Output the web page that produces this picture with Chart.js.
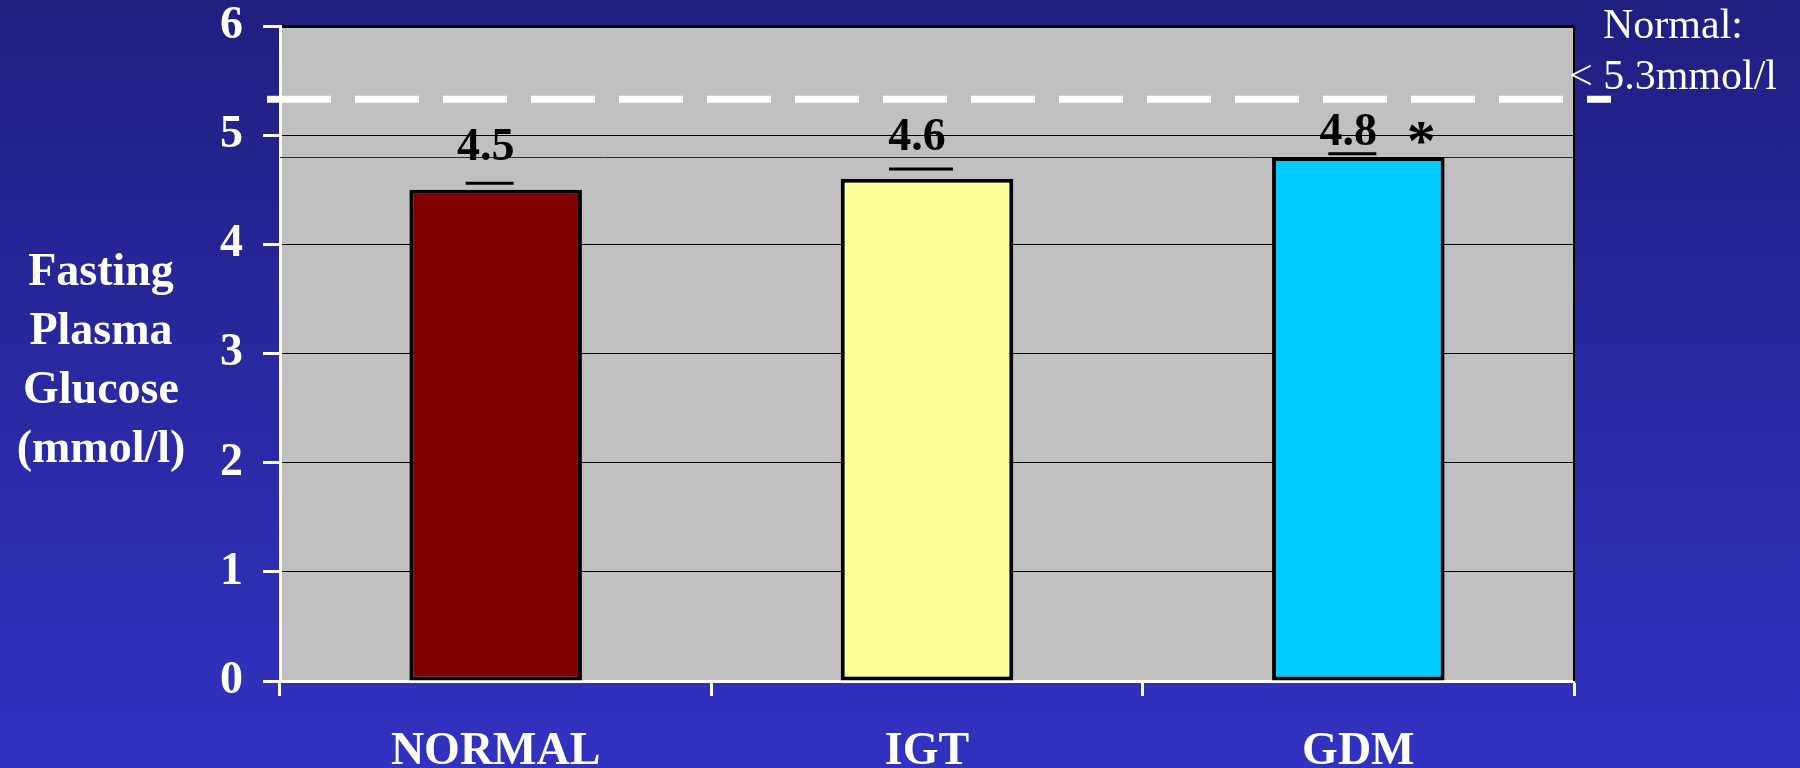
<!DOCTYPE html>
<html>
<head>
<meta charset="utf-8">
<script src="https://cdn.jsdelivr.net/npm/chart.js@4/dist/chart.umd.min.js"></script>
<style>
	html, body { margin: 0; padding: 0; }
	body {
		width: 1800px;
		height: 768px;
		overflow: hidden;
		background: linear-gradient(to bottom, #1f1f80 0%, #3232c2 100%);
	}
	canvas { display: block; }
</style>
</head>
<body>
<canvas id="glucose-chart" width="1800" height="768"></canvas>
<script>
// values
const categories = ["NORMAL", "IGT", "GDM"];
const glucoseMeans = [4.5, 4.6, 4.8];
const errorTops = [4.56, 4.69, 4.83];
const meanLabels = ["4.5", "4.6", "4.8"];
const significant = [false, false, true];
const yTickValues = [0, 1, 2, 3, 4, 5, 6];
const normalLimit = 5.33;
const referenceLine = 4.8;
const titleLines = ["Fasting", "Plasma", "Glucose", "(mmol/l)"];
const noteLines = ["Normal:", "< 5.3mmol/l"];

// styling
const barColors = ["#800000", "#ffff99", "#00ccff"];
const labelGap = [23, 19, 9];
const capWidths = [48, 64, 48];
const SERIF = '"Liberation Serif", "Times New Roman", serif';

const slideDecor = {
	id: "slideDecor",
	beforeDraw(chart) {
		const { ctx, chartArea: a } = chart;
		ctx.save();
		ctx.fillStyle = "#c0c0c0";
		ctx.fillRect(a.left, a.top, a.right - a.left, a.bottom - a.top);
		ctx.restore();
	},
	beforeDatasetsDraw(chart) {
		const { ctx, chartArea: a, scales } = chart;
		const y = Math.round(scales.y.getPixelForValue(referenceLine)) + 0.5;
		ctx.save();
		ctx.strokeStyle = "#20208a";
		ctx.lineWidth = 1;
		ctx.beginPath();
		ctx.moveTo(a.left, y);
		ctx.lineTo(a.right, y);
		ctx.stroke();

		ctx.strokeStyle = "#000";
		ctx.lineWidth = 2;
		ctx.beginPath();
		ctx.moveTo(a.right, a.top);
		ctx.lineTo(a.right, a.bottom);
		ctx.stroke();
		ctx.restore();
	},
	afterDraw(chart) {
		const { ctx, chartArea: a, scales } = chart;
		const meta = chart.getDatasetMeta(0);
		ctx.save();

		// dashed "normal" limit
		const yLim = scales.y.getPixelForValue(normalLimit);
		ctx.strokeStyle = "#fff";
		ctx.lineWidth = 7;
		ctx.setLineDash([64, 24]);
		ctx.beginPath();
		ctx.moveTo(a.left - 13, yLim);
		ctx.lineTo(a.right + 37, yLim);
		ctx.stroke();
		ctx.setLineDash([]);

		// error caps + value labels
		ctx.fillStyle = "#000";
		ctx.strokeStyle = "#000";
		ctx.lineWidth = 3;
		ctx.textAlign = "center";
		ctx.textBaseline = "alphabetic";
		meta.data.forEach((bar, i) => {
			const capY = scales.y.getPixelForValue(errorTops[i]);
			const cx = bar.x - 6;
			ctx.beginPath();
			ctx.moveTo(cx - capWidths[i] / 2, capY);
			ctx.lineTo(cx + capWidths[i] / 2, capY);
			ctx.stroke();
			ctx.font = `bold 46px ${SERIF}`;
			ctx.fillText(meanLabels[i], bar.x - 10, capY - labelGap[i]);
			if (significant[i]) {
				ctx.font = `bold 58px ${SERIF}`;
				ctx.textBaseline = "middle";
				ctx.fillText("*", bar.x + 63, capY - 9);
				ctx.textBaseline = "alphabetic";
			}
		});

		// y title, horizontal, left of the axis
		ctx.fillStyle = "#fff";
		ctx.font = `bold 46px ${SERIF}`;
		titleLines.forEach((line, i) => {
			ctx.fillText(line, 101, 285 + i * 59);
		});

		// note at the top right
		ctx.font = `42px ${SERIF}`;
		noteLines.forEach((line, i) => {
			ctx.fillText(line, 1673, 38 + i * 51);
		});
		ctx.restore();
	},
};

new Chart(document.getElementById("glucose-chart"), {
	type: "bar",
	data: {
		labels: categories,
		datasets: [
			{
				data: glucoseMeans,
				backgroundColor: barColors,
				borderColor: "#000",
				borderWidth: 4,
				borderSkipped: false,
				barPercentage: 0.4,
				categoryPercentage: 1,
			},
		],
	},
	options: {
		responsive: false,
		animation: false,
		devicePixelRatio: 1,
		layout: { padding: { top: 26, right: 226, left: 0, bottom: 0 } },
		plugins: {
			legend: { display: false },
			tooltip: { enabled: false },
		},
		scales: {
			x: {
				grid: {
					offset: true,
					drawOnChartArea: false,
					tickLength: 15,
					tickColor: "#fff",
					tickWidth: 3,
				},
				border: { color: "#fff", width: 3 },
				ticks: {
					color: "#fff",
					font: { family: SERIF, size: 46, weight: "bold" },
					padding: 29,
				},
				afterFit(scale) {
					scale.height = 87;
				},
			},
			y: {
				min: 0,
				max: 6,
				afterBuildTicks(scale) {
					scale.ticks = yTickValues.map((v) => ({ value: v }));
				},
				grid: {
					color: (c) => (c.tick && c.tick.value === 0 ? "#fff" : "#000"),
					lineWidth: (c) => (c.tick && c.tick.value === 6 ? 3 : 1),
					tickColor: "#fff",
					tickLength: 17,
					tickWidth: 3,
				},
				border: { color: "#fff", width: 3 },
				ticks: {
					color: "#fff",
					// small lineHeight keeps the top padding from growing
					font: { family: SERIF, size: 46, weight: "bold", lineHeight: 0.2 },
					padding: 20,
				},
				afterFit(scale) {
					scale.width = 280;
				},
			},
		},
	},
	plugins: [slideDecor],
});
</script>
</body>
</html>
